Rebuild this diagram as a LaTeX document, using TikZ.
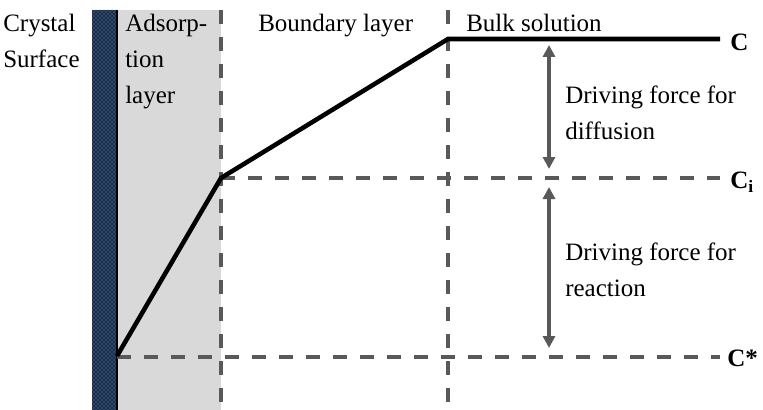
\documentclass[tikz,border=0pt]{standalone}
\usepackage{fontspec}
\setmainfont{Liberation Serif}
\usetikzlibrary{arrows.meta, positioning, patterns}
\definecolor{lineGray}{HTML}{595959}
\definecolor{layerGray}{HTML}{D9D9D9}
\definecolor{crystalBlue}{HTML}{1B2D48}
\definecolor{dotBlue}{HTML}{6A9ED6}

\begin{document}
\begin{tikzpicture}[
    x=0.75pt, y={(0pt,-0.75pt)},
    lbl/.style={font=\fontsize{18.75}{27}\selectfont, align=left,
                inner sep=0pt, anchor=north west},
    conc/.style={font=\fontsize{18.75}{22}\selectfont\bfseries,
                 inner sep=0pt, anchor=west},
    divider/.style={draw=lineGray, line width=3pt,
                    dash pattern=on 10.5pt off 9.75pt},
    profile/.style={draw=black, line width=3.4pt, line join=miter},
    force/.style={draw=lineGray, line width=2.3pt,
                  {Triangle[length=9pt,width=9pt]}-{Triangle[length=9pt,width=9pt]}},
]
    \useasboundingbox (0,0) rectangle (763,410);

    % crystal surface and adsorption layer
    \fill[crystalBlue] (92,10) rectangle (117,410);
    \fill[pattern=crosshatch dots, pattern color=dotBlue] (92,10) rectangle (117,410);
    \fill[layerGray] (117,10) rectangle (221,410);
    \draw[black, line width=1.2pt] (117,10) -- (117,410);

    % profile points
    \coordinate (surf) at (117,356);
    \coordinate (ads) at (221,178);
    \coordinate (bulk) at (448,39);
    \coordinate (far) at (720,39);
    \coordinate (adsTop) at (221,10);
    \coordinate (adsBot) at (221,410);
    \coordinate (bulkTop) at (448,10);
    \coordinate (bulkBot) at (448,410);
    \coordinate (ciEnd) at (720,178);
    \coordinate (eqEnd) at (720,357);

    % layer borders and levels
    \draw[divider] (adsTop) -- (adsBot);
    \draw[divider] (bulkTop) -- (bulkBot);
    \draw[divider] (ads) -- (ciEnd);
    \draw[divider] (surf |- eqEnd) -- (eqEnd);

    % concentration profile
    \draw[profile] (surf) -- (ads) -- (bulk) -- (far);

    % driving forces
    \coordinate (difTop) at (549,45);
    \coordinate (difBot) at (549,169);
    \coordinate (reaTop) at (549,187);
    \coordinate (reaBot) at (549,348);
    \draw[force] (difTop) -- (difBot);
    \draw[force] (reaTop) -- (reaBot);

    % labels
    \node[lbl] (crystal) at (3,14) {Crystal\\Surface};
    \node[lbl] (adsorp) at (125,14) {Adsorp-\\tion\\layer};
    \node[lbl] (boundary) at (258,14) {Boundary layer};
    \node[lbl] (bulklbl) at (466,14) {Bulk solution};
    \node[lbl] (diffusion) at (565,86) {Driving force for\\diffusion};
    \node[lbl] (reaction) at (565,243) {Driving force for\\reaction};

    \node[conc] (cBulk) at (730,42) {C};
    \node[conc] (cInt) at (730,182) {C\textsubscript{i}};
    \node[conc] (cEq) at (727,358) {C*};
\end{tikzpicture}
\end{document}
